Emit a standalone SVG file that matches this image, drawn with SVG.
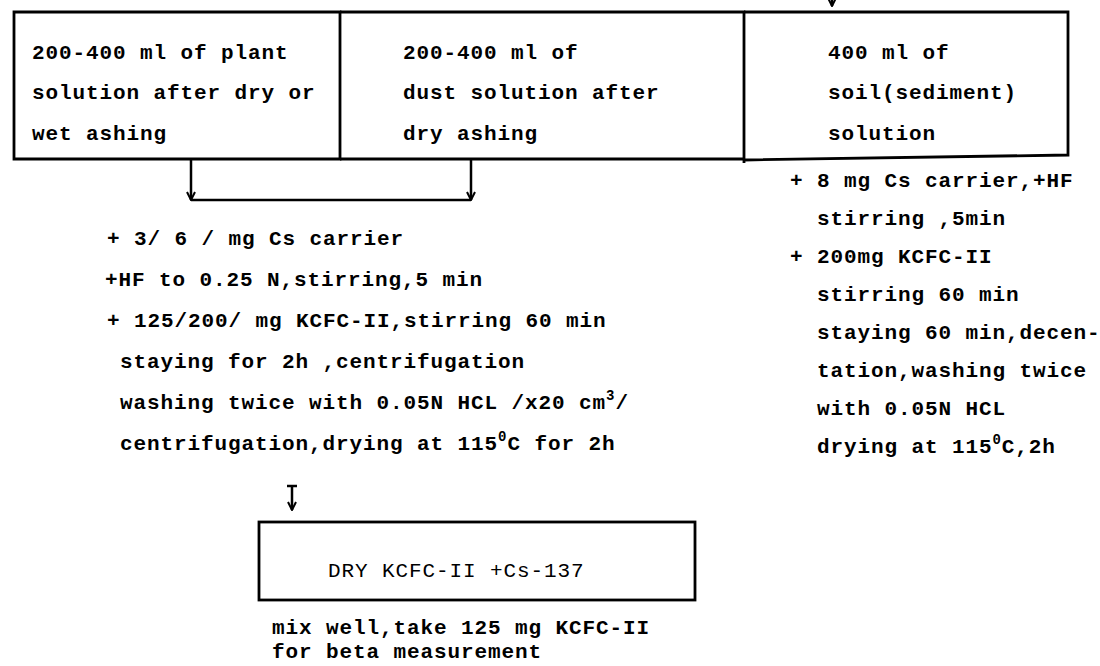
<svg xmlns="http://www.w3.org/2000/svg" width="1100" height="666" viewBox="0 0 1100 666">
<style>
.t{font-family:"Liberation Mono","DejaVu Sans Mono",monospace;font-size:21px;font-weight:bold;letter-spacing:0.9px;fill:#000}
.n{font-weight:normal}
.b{fill:none;stroke:#000;stroke-width:2.8}
.c{fill:none;stroke:#000;stroke-width:2.5}
.sup{font-size:14px}
</style>
<defs>
<marker id="ah" viewBox="0 0 10 10" refX="9" refY="5" markerWidth="10" markerHeight="10" orient="auto" markerUnits="userSpaceOnUse">
<path d="M1,1 L9,5 L1,9" fill="none" stroke="#000" stroke-width="2"/>
</marker>
</defs>
<rect width="1100" height="666" fill="#fff"/>
<g id="plant">
<path class="b" d="M14,12 H340 V159 H14 Z"/>
<text class="t" x="32" y="59">200-400 ml of plant</text>
<text class="t" x="32" y="99">solution after dry or</text>
<text class="t" x="32" y="140">wet ashing</text>
</g>
<g id="dust">
<path class="b" d="M340,12 H744 V159 H340"/>
<text class="t" x="403" y="59">200-400 ml of</text>
<text class="t" x="403" y="99">dust solution after</text>
<text class="t" x="403" y="140">dry ashing</text>
</g>
<g id="soil">
<path class="b" d="M744,12 H1068 V155 L744,160 V163"/>
<text class="t" x="828" y="59">400 ml of</text>
<text class="t" x="828" y="99">soil(sediment)</text>
<text class="t" x="828" y="140">solution</text>
</g>
<g id="left-steps">
<text class="t" x="107" y="245">+ 3/ 6 / mg Cs carrier</text>
<text class="t" x="105" y="286">+HF to 0.25 N,stirring,5 min</text>
<text class="t" x="107" y="327">+ 125/200/ mg KCFC-II,stirring 60 min</text>
<text class="t" x="120" y="368">staying for 2h ,centrifugation</text>
<text class="t" x="120" y="409">washing twice with 0.05N HCL /x20 cm<tspan class="sup" dy="-9">3</tspan><tspan dy="9">/</tspan></text>
<text class="t" x="120" y="450">centrifugation,drying at 115<tspan class="sup" dy="-9">0</tspan><tspan dy="9">C for 2h</tspan></text>
</g>
<g id="right-steps">
<text class="t" x="790" y="187">+ 8 mg Cs carrier,+HF</text>
<text class="t" x="817" y="225">stirring ,5min</text>
<text class="t" x="790" y="263">+ 200mg KCFC-II</text>
<text class="t" x="817" y="301">stirring 60 min</text>
<text class="t" x="817" y="339">staying 60 min,decen-</text>
<text class="t" x="817" y="377">tation,washing twice</text>
<text class="t" x="817" y="415">with 0.05N HCL</text>
<text class="t" x="817" y="453">drying at 115<tspan class="sup" dy="-9">0</tspan><tspan dy="9">C,2h</tspan></text>
</g>
<g id="dry">
<rect class="b" x="259" y="522" width="436" height="78"/>
<text class="t n" x="328" y="577">DRY KCFC-II +Cs-137</text>
</g>
<g id="measure">
<text class="t" x="272" y="634">mix well,take 125 mg KCFC-II</text>
<text class="t" x="272" y="658">for beta measurement</text>
</g>
<g id="connectors">
<line class="c" x1="191" y1="160" x2="191" y2="200" marker-end="url(#ah)"/>
<line class="c" x1="471" y1="160" x2="471" y2="200" marker-end="url(#ah)"/>
<line class="c" x1="191" y1="200" x2="471" y2="200"/>
<line class="c" x1="832" y1="-4" x2="832" y2="6" marker-end="url(#ah)"/>
<line class="c" x1="287" y1="486" x2="297" y2="486"/>
<line class="c" x1="292" y1="486" x2="292" y2="510" marker-end="url(#ah)"/>
</g>
</svg>
